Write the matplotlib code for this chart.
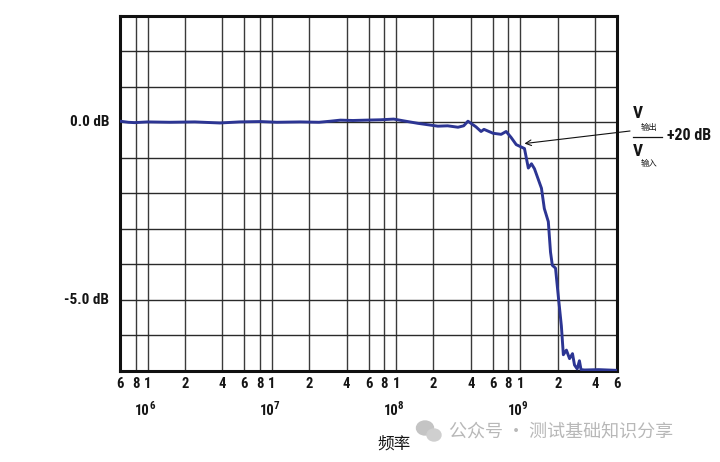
import matplotlib
matplotlib.use("Agg")
import matplotlib.pyplot as plt
from matplotlib import font_manager
from matplotlib.font_manager import FontProperties
import matplotlib.transforms as mtransforms
from matplotlib.patches import Ellipse

# ---- data ----
freq_hz = [6.0e5, 7.0e5, 7.85e5, 1.0e6, 1.51e6, 2.4e6, 3.82e6, 5.5e6, 8.04e6, 1.1e7,
           1.69e7, 2.4e7, 2.96e7, 3.56e7, 4.5e7, 5.68e7, 7.5e7, 9.57e7, 1.15e8, 1.5e8,
           2.17e8, 2.6e8, 3.15e8, 3.5e8, 3.79e8, 4.4e8, 4.83e8, 5.1e8, 6.04e8, 7.01e8,
           7.69e8, 8.44e8, 9.27e8, 1.08e9, 1.16e9, 1.23e9, 1.30e9, 1.48e9, 1.56e9, 1.68e9,
           1.75e9, 1.81e9, 1.92e9, 2.02e9, 2.14e9, 2.22e9, 2.35e9, 2.49e9, 2.63e9, 2.73e9,
           2.87e9, 2.99e9, 3.08e9, 3.29e9, 4.27e9, 5.96e9]
gain_db = [0.03, 0.0, -0.01, 0.01, 0.0, 0.01, -0.02, 0.01, 0.02, 0.0,
           0.01, 0.0, 0.03, 0.06, 0.05, 0.06, 0.07, 0.09, 0.04, -0.03,
           -0.11, -0.1, -0.14, -0.1, 0.03, -0.13, -0.26, -0.20, -0.31, -0.34,
           -0.26, -0.43, -0.63, -0.74, -1.29, -1.17, -1.31, -1.86, -2.43, -2.80,
           -3.66, -4.03, -4.11, -4.89, -5.74, -6.55, -6.42, -6.66, -6.52, -6.84,
           -6.95, -6.72, -6.97, -6.98, -6.97, -6.99]

tick_freqs = [6e5, 8e5, 1e6, 2e6, 4e6, 6e6, 8e6, 1e7, 2e7, 4e7, 6e7, 8e7,
              1e8, 2e8, 4e8, 6e8, 8e8, 1e9, 2e9, 4e9, 6e9]
tick_labels = ["6", "8", "1", "2", "4", "6", "8", "1", "2", "4", "6", "8",
               "1", "2", "4", "6", "8", "1", "2", "4", "6"]
decade_freqs = [1e6, 1e7, 1e8, 1e9]
decade_exps = ["6", "7", "8", "9"]
y_grid = [-7, -6, -5, -4, -3, -2, -1, 0, 1, 2, 3]
y_label_vals = [0.0, -5.0]
y_label_texts = ["0.0 dB", "-5.0 dB"]

# ---- fonts: look for a bold condensed sans file, else Liberation Sans bold ----
def _is_bold(w):
    if isinstance(w, (int, float)):
        return w >= 600
    return str(w).lower() in ("bold", "heavy", "black", "extra bold", "semibold", "demibold", "demi")

cand = None
for pref in ("Liberation Sans Narrow", "Roboto Condensed", "Open Sans Condensed", "DejaVu Sans Condensed",
             "Noto Sans Condensed", "Arial Narrow"):
    for fe in font_manager.fontManager.ttflist:
        if fe.name == pref and _is_bold(fe.weight) and fe.style == "normal":
            cand = fe.fname
            break
    if cand:
        break
if cand is None:
    for fe in font_manager.fontManager.ttflist:
        nm = fe.name
        if ("condensed" in str(fe.stretch).lower() or "Condensed" in nm or "Narrow" in nm) \
                and "Mono" not in nm and "Serif" not in nm and _is_bold(fe.weight) and fe.style == "normal" \
                and ("Sans" in nm or "Roboto" in nm or "Lato" in nm or "Inter" in nm):
            cand = fe.fname
            break

if cand:
    def bfont(size):
        return FontProperties(fname=cand, size=size)
    fs_small = 10.5
else:
    def bfont(size):
        return FontProperties(family="Liberation Sans", weight="bold", size=size)
    fs_small = 9.5

cjk = "Noto Sans CJK SC"

W, H = 720, 462
fig = plt.figure(figsize=(7.2, 4.62), dpi=100)
ax = fig.add_axes([120 / W, 1 - 370.7 / H, (617 - 120) / W, (370.7 - 15.8) / H])

ax.set_xscale("log")
ax.set_xlim(6e5, 6e9)
ax.set_ylim(-7, 3)

for f in tick_freqs:
    ax.axvline(f, color="#3a3a3a", lw=1.0, zorder=1)
for yv in y_grid:
    ax.axhline(yv, color="#2a2a2a", lw=1.0, zorder=1)

ax.plot(freq_hz, gain_db, color="#2c3593", lw=2.1, zorder=3, solid_joinstyle="round")

for s in ax.spines.values():
    s.set_linewidth(2.2)
    s.set_color("#111111")

ax.set_xticks([])
ax.set_yticks([])
ax.xaxis.set_minor_locator(matplotlib.ticker.NullLocator())

txtc = "#151515"
trans = mtransforms.blended_transform_factory(ax.transData, ax.transAxes)
for f, lab in zip(tick_freqs, tick_labels):
    ax.text(f, -0.038, lab, transform=trans, ha="center", va="center",
            fontproperties=bfont(fs_small), color=txtc)

# decade labels: "10" with superscript exponent, group centred on the decade
for f, e in zip(decade_freqs, decade_exps):
    ax.text(f, -0.114, "10", ha="right", va="center", fontproperties=bfont(fs_small), color=txtc,
            transform=trans + mtransforms.ScaledTranslation(2.5 / 100, 0, fig.dpi_scale_trans))
    ax.text(f, -0.114, e, ha="left", va="center", fontproperties=bfont(fs_small * 0.75), color=txtc,
            transform=trans + mtransforms.ScaledTranslation(1.5 / 100, 5 / 100, fig.dpi_scale_trans))

ytrans = mtransforms.blended_transform_factory(ax.transAxes, ax.transData)
for yv, lab in zip(y_label_vals, y_label_texts):
    ax.text(-0.022, yv, lab, transform=ytrans, ha="right", va="center",
            fontproperties=bfont(fs_small + 0.5), color=txtc)

# annotation arrow
ax.annotate("", xy=(1.08e9, -0.6), xycoords="data",
            xytext=(630, H - 131), textcoords="figure pixels",
            arrowprops=dict(arrowstyle="->", lw=0.8, color="#111111", shrinkA=0, shrinkB=0),
            annotation_clip=False)

def fp(x, y):
    return (x / W, 1 - y / H)

fig.text(*fp(633, 114), "V", fontproperties=bfont(12.5), ha="left", va="center", color=txtc)
fig.text(*fp(641, 127), "输出", fontsize=6, family=cjk, ha="left", va="center", color=txtc)
fig.add_artist(plt.Line2D([633 / W, 662 / W], [1 - 137 / H, 1 - 137 / H], color=txtc, lw=0.9,
                          transform=fig.transFigure))
fig.text(*fp(633, 151), "V", fontproperties=bfont(12.5), ha="left", va="center", color=txtc)
fig.text(*fp(641, 163), "输入", fontsize=6, family=cjk, ha="left", va="center", color=txtc)
fig.text(*fp(667, 136), "+20 dB", fontproperties=bfont(fs_small + 1), ha="left", va="center", color=txtc)

# x label
fig.text(*fp(394, 444), "频率", fontsize=12, family=cjk, ha="center", va="center", color=txtc)

# watermark
fig.text(*fp(449, 432), "公众号 · 测试基础知识分享", fontsize=13, family=cjk, ha="left", va="center", color="#b8b8b8")
fig.add_artist(Ellipse(fp(425, 428), 17 / W, 14 / H, transform=fig.transFigure, color="#c4c4c4", zorder=5))
fig.add_artist(Ellipse(fp(434, 435), 14 / W, 12 / H, transform=fig.transFigure, color="#cfcfcf", zorder=6))

fig.savefig("out.png", dpi=100)
